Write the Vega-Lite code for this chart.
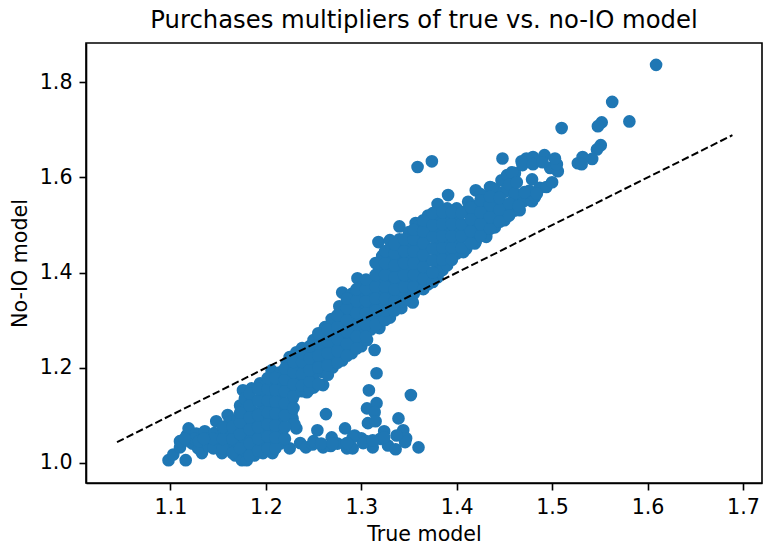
{"$schema":"https://vega.github.io/schema/vega-lite/v6.json","width":676,"height":440,"autosize":"none","padding":{"left":86,"top":43,"right":1,"bottom":64},"background":"white","config":{"view":{"stroke":"#000","strokeWidth":1.6},"font":"DejaVu Sans"},"title":{"text":"Purchases multipliers of true vs. no-IO model","fontSize":24.3,"fontWeight":"normal","font":"DejaVu Sans","color":"#000","offset":10,"anchor":"middle"},"layer":[{"data":{"values":[
{"t":1.098,"n":1.005},{"t":1.103,"n":1.017},{"t":1.11,"n":1.032},{"t":1.116,"n":1.005},{"t":1.117,"n":1.057},{"t":1.119,"n":1.072},{"t":1.123,"n":1.04},{"t":1.127,"n":1.061},{"t":1.136,"n":1.066},{"t":1.133,"n":1.02},{"t":1.129,"n":1.03},{"t":1.12,"n":1.045},{"t":1.14,"n":1.05},{"t":1.146,"n":1.062},{"t":1.148,"n":1.087},{"t":1.16,"n":1.1},{"t":1.154,"n":1.02},{"t":1.15,"n":1.04},{"t":1.156,"n":1.07},{"t":1.162,"n":1.085},{"t":1.16,"n":1.055},{"t":1.16,"n":1.03},{"t":1.168,"n":1.015},{"t":1.168,"n":1.04},{"t":1.168,"n":1.062},{"t":1.17,"n":1.09},{"t":1.175,"n":1.005},{"t":1.18,"n":1.005},{"t":1.178,"n":1.025},{"t":1.178,"n":1.05},{"t":1.176,"n":1.075},{"t":1.173,"n":1.12},{"t":1.176,"n":1.152},{"t":1.18,"n":1.1},{"t":1.178,"n":1.135},{"t":1.185,"n":1.156},{"t":1.188,"n":1.015},{"t":1.188,"n":1.035},{"t":1.188,"n":1.06},{"t":1.187,"n":1.082},{"t":1.188,"n":1.105},{"t":1.188,"n":1.13},{"t":1.194,"n":1.167},{"t":1.197,"n":1.02},{"t":1.197,"n":1.045},{"t":1.197,"n":1.07},{"t":1.197,"n":1.095},{"t":1.197,"n":1.12},{"t":1.197,"n":1.145},{"t":1.206,"n":1.194},{"t":1.207,"n":1.02},{"t":1.205,"n":1.04},{"t":1.206,"n":1.065},{"t":1.206,"n":1.09},{"t":1.206,"n":1.115},{"t":1.206,"n":1.14},{"t":1.206,"n":1.167},{"t":1.215,"n":1.089},{"t":1.217,"n":1.062},{"t":1.215,"n":1.04},{"t":1.214,"n":1.115},{"t":1.215,"n":1.14},{"t":1.215,"n":1.165},{"t":1.215,"n":1.19},{"t":1.222,"n":1.21},{"t":1.225,"n":1.222},{"t":1.225,"n":1.116},{"t":1.228,"n":1.135},{"t":1.224,"n":1.16},{"t":1.224,"n":1.185},{"t":1.225,"n":1.03},{"t":1.228,"n":1.093},{"t":1.232,"n":1.072},{"t":1.23,"n":1.08},{"t":1.227,"n":1.105},{"t":1.232,"n":1.232},{"t":1.238,"n":1.241},{"t":1.233,"n":1.15},{"t":1.233,"n":1.175},{"t":1.233,"n":1.2},{"t":1.243,"n":1.148},{"t":1.242,"n":1.17},{"t":1.242,"n":1.195},{"t":1.242,"n":1.22},{"t":1.25,"n":1.158},{"t":1.25,"n":1.18},{"t":1.25,"n":1.205},{"t":1.25,"n":1.23},{"t":1.25,"n":1.258},{"t":1.26,"n":1.163},{"t":1.26,"n":1.19},{"t":1.26,"n":1.215},{"t":1.26,"n":1.24},{"t":1.26,"n":1.265},{"t":1.262,"n":1.285},{"t":1.27,"n":1.2},{"t":1.27,"n":1.225},{"t":1.27,"n":1.25},{"t":1.27,"n":1.275},{"t":1.269,"n":1.302},{"t":1.277,"n":1.329},{"t":1.28,"n":1.358},{"t":1.28,"n":1.215},{"t":1.28,"n":1.24},{"t":1.28,"n":1.265},{"t":1.28,"n":1.29},{"t":1.28,"n":1.315},{"t":1.29,"n":1.23},{"t":1.29,"n":1.255},{"t":1.29,"n":1.28},{"t":1.29,"n":1.305},{"t":1.29,"n":1.33},{"t":1.29,"n":1.355},{"t":1.296,"n":1.388},{"t":1.3,"n":1.245},{"t":1.3,"n":1.27},{"t":1.3,"n":1.295},{"t":1.3,"n":1.32},{"t":1.3,"n":1.345},{"t":1.3,"n":1.37},{"t":1.306,"n":1.258},{"t":1.31,"n":1.28},{"t":1.31,"n":1.305},{"t":1.31,"n":1.33},{"t":1.31,"n":1.355},{"t":1.31,"n":1.38},{"t":1.319,"n":1.283},{"t":1.32,"n":1.31},{"t":1.32,"n":1.335},{"t":1.32,"n":1.36},{"t":1.32,"n":1.385},{"t":1.32,"n":1.41},{"t":1.322,"n":1.435},{"t":1.318,"n":1.464},{"t":1.33,"n":1.468},{"t":1.33,"n":1.305},{"t":1.33,"n":1.33},{"t":1.33,"n":1.355},{"t":1.33,"n":1.38},{"t":1.33,"n":1.405},{"t":1.33,"n":1.43},{"t":1.33,"n":1.45},{"t":1.34,"n":1.497},{"t":1.342,"n":1.325},{"t":1.34,"n":1.35},{"t":1.34,"n":1.375},{"t":1.34,"n":1.4},{"t":1.34,"n":1.425},{"t":1.34,"n":1.45},{"t":1.34,"n":1.47},{"t":1.354,"n":1.337},{"t":1.35,"n":1.36},{"t":1.35,"n":1.385},{"t":1.35,"n":1.41},{"t":1.35,"n":1.435},{"t":1.35,"n":1.46},{"t":1.35,"n":1.485},{"t":1.357,"n":1.504},{"t":1.36,"n":1.375},{"t":1.36,"n":1.4},{"t":1.36,"n":1.425},{"t":1.36,"n":1.45},{"t":1.36,"n":1.475},{"t":1.36,"n":1.497},{"t":1.37,"n":1.375},{"t":1.37,"n":1.4},{"t":1.37,"n":1.425},{"t":1.37,"n":1.45},{"t":1.37,"n":1.475},{"t":1.37,"n":1.5},{"t":1.37,"n":1.52},{"t":1.38,"n":1.544},{"t":1.38,"n":1.39},{"t":1.38,"n":1.415},{"t":1.38,"n":1.44},{"t":1.38,"n":1.465},{"t":1.38,"n":1.49},{"t":1.38,"n":1.515},{"t":1.385,"n":1.405},{"t":1.391,"n":1.563},{"t":1.39,"n":1.415},{"t":1.39,"n":1.44},{"t":1.39,"n":1.465},{"t":1.39,"n":1.49},{"t":1.39,"n":1.515},{"t":1.39,"n":1.535},{"t":1.4,"n":1.44},{"t":1.4,"n":1.465},{"t":1.4,"n":1.49},{"t":1.4,"n":1.515},{"t":1.41,"n":1.45},{"t":1.41,"n":1.475},{"t":1.41,"n":1.5},{"t":1.41,"n":1.53},{"t":1.42,"n":1.573},{"t":1.42,"n":1.465},{"t":1.42,"n":1.49},{"t":1.42,"n":1.515},{"t":1.42,"n":1.54},{"t":1.43,"n":1.48},{"t":1.43,"n":1.505},{"t":1.43,"n":1.53},{"t":1.43,"n":1.56},{"t":1.435,"n":1.58},{"t":1.44,"n":1.495},{"t":1.44,"n":1.52},{"t":1.44,"n":1.545},{"t":1.447,"n":1.594},{"t":1.453,"n":1.605},{"t":1.45,"n":1.51},{"t":1.45,"n":1.535},{"t":1.45,"n":1.57},{"t":1.461,"n":1.609},{"t":1.46,"n":1.53},{"t":1.46,"n":1.555},{"t":1.455,"n":1.585},{"t":1.466,"n":1.531},{"t":1.47,"n":1.55},{"t":1.479,"n":1.55},{"t":1.482,"n":1.559},{"t":1.479,"n":1.596},{"t":1.476,"n":1.572},{"t":1.487,"n":1.578},{"t":1.494,"n":1.58},{"t":1.5,"n":1.59},{"t":1.498,"n":1.62},{"t":1.506,"n":1.613},{"t":1.505,"n":1.628},{"t":1.503,"n":1.64},{"t":1.492,"n":1.647},{"t":1.48,"n":1.643},{"t":1.473,"n":1.64},{"t":1.468,"n":1.634},{"t":1.469,"n":1.626},{"t":1.48,"n":1.628},{"t":1.49,"n":1.632},{"t":1.448,"n":1.64},{"t":1.359,"n":1.622},{"t":1.374,"n":1.634},{"t":1.51,"n":1.704},{"t":1.563,"n":1.759},{"t":1.581,"n":1.718},{"t":1.552,"n":1.716},{"t":1.548,"n":1.708},{"t":1.551,"n":1.668},{"t":1.547,"n":1.659},{"t":1.542,"n":1.639},{"t":1.532,"n":1.643},{"t":1.527,"n":1.63},{"t":1.531,"n":1.628},{"t":1.609,"n":1.837},
{"t":1.407,"n":1.443},{"t":1.419,"n":1.461},{"t":1.431,"n":1.475},{"t":1.452,"n":1.517},{"t":1.4,"n":1.535},{"t":1.412,"n":1.549},{"t":1.425,"n":1.565},{"t":1.44,"n":1.575},{"t":1.437,"n":1.578},{"t":1.458,"n":1.611},{"t":1.461,"n":1.567},{"t":1.471,"n":1.569},{"t":1.463,"n":1.59},{"t":1.484,"n":1.566},
{"t":1.236,"n":1.041},{"t":1.242,"n":1.032},{"t":1.249,"n":1.038},{"t":1.26,"n":1.032},{"t":1.269,"n":1.053},{"t":1.254,"n":1.068},{"t":1.263,"n":1.102},{"t":1.283,"n":1.072},{"t":1.285,"n":1.03},{"t":1.291,"n":1.03},{"t":1.293,"n":1.057},{"t":1.3,"n":1.051},{"t":1.312,"n":1.032},{"t":1.306,"n":1.114},{"t":1.316,"n":1.125},{"t":1.314,"n":1.106},{"t":1.308,"n":1.152},{"t":1.316,"n":1.188},{"t":1.314,"n":1.237},{"t":1.307,"n":1.083},{"t":1.315,"n":1.087},{"t":1.324,"n":1.066},{"t":1.328,"n":1.036},{"t":1.336,"n":1.028},{"t":1.339,"n":1.093},{"t":1.352,"n":1.142},{"t":1.344,"n":1.068},{"t":1.347,"n":1.051},{"t":1.346,"n":1.043},{"t":1.337,"n":1.057},{"t":1.36,"n":1.032},{"t":1.275,"n":1.04},{"t":1.305,"n":1.045},{"t":1.32,"n":1.05},{"t":1.268,"n":1.035},{"t":1.25,"n":1.045},{"t":1.258,"n":1.04},{"t":1.27,"n":1.04},{"t":1.291,"n":1.053},{"t":1.285,"n":1.041},{"t":1.302,"n":1.041},{"t":1.324,"n":1.053},{"t":1.312,"n":1.047},
{"t":1.11,"n":1.045},{"t":1.125,"n":1.05},{"t":1.13,"n":1.045},{"t":1.115,"n":1.05},{"t":1.14,"n":1.035},{"t":1.145,"n":1.03},{"t":1.145,"n":1.05},{"t":1.135,"n":1.05},
{"t":1.155,"n":1.03},{"t":1.155,"n":1.05},{"t":1.155,"n":1.075},{"t":1.165,"n":1.02},{"t":1.165,"n":1.05},{"t":1.165,"n":1.075},{"t":1.173,"n":1.03},{"t":1.173,"n":1.06},{"t":1.173,"n":1.085},{"t":1.173,"n":1.105},{"t":1.183,"n":1.015},{"t":1.183,"n":1.04},{"t":1.183,"n":1.07},{"t":1.183,"n":1.095},{"t":1.183,"n":1.12},{"t":1.183,"n":1.145},{"t":1.192,"n":1.025},{"t":1.192,"n":1.05},{"t":1.192,"n":1.075},{"t":1.192,"n":1.1},{"t":1.192,"n":1.13},{"t":1.192,"n":1.155},{"t":1.202,"n":1.03},{"t":1.202,"n":1.055},{"t":1.202,"n":1.08},{"t":1.202,"n":1.105},{"t":1.202,"n":1.13},{"t":1.202,"n":1.155},{"t":1.202,"n":1.178},{"t":1.21,"n":1.03},{"t":1.21,"n":1.053},{"t":1.21,"n":1.078},{"t":1.21,"n":1.103},{"t":1.21,"n":1.128},{"t":1.21,"n":1.153},{"t":1.21,"n":1.178},{"t":1.22,"n":1.05},{"t":1.22,"n":1.075},{"t":1.22,"n":1.1},{"t":1.22,"n":1.125},{"t":1.22,"n":1.15},{"t":1.22,"n":1.175},{"t":1.22,"n":1.198},{"t":1.229,"n":1.115},{"t":1.229,"n":1.14},{"t":1.229,"n":1.165},{"t":1.229,"n":1.19},{"t":1.229,"n":1.212},{"t":1.238,"n":1.15},{"t":1.238,"n":1.162},{"t":1.238,"n":1.187},{"t":1.238,"n":1.212},{"t":1.238,"n":1.23},{"t":1.246,"n":1.155},{"t":1.246,"n":1.17},{"t":1.246,"n":1.195},{"t":1.246,"n":1.22},{"t":1.246,"n":1.245},{"t":1.255,"n":1.165},{"t":1.255,"n":1.2},{"t":1.255,"n":1.225},{"t":1.255,"n":1.25},{"t":1.255,"n":1.272},{"t":1.265,"n":1.185},{"t":1.265,"n":1.205},{"t":1.265,"n":1.23},{"t":1.265,"n":1.255},{"t":1.265,"n":1.28},{"t":1.275,"n":1.21},{"t":1.275,"n":1.235},{"t":1.275,"n":1.26},{"t":1.275,"n":1.285},{"t":1.275,"n":1.31},{"t":1.285,"n":1.225},{"t":1.285,"n":1.25},{"t":1.285,"n":1.275},{"t":1.285,"n":1.3},{"t":1.285,"n":1.325},{"t":1.285,"n":1.345},{"t":1.295,"n":1.24},{"t":1.295,"n":1.265},{"t":1.295,"n":1.29},{"t":1.295,"n":1.315},{"t":1.295,"n":1.34},{"t":1.295,"n":1.365},{"t":1.305,"n":1.265},{"t":1.305,"n":1.29},{"t":1.305,"n":1.315},{"t":1.305,"n":1.34},{"t":1.305,"n":1.365},{"t":1.305,"n":1.385},{"t":1.315,"n":1.29},{"t":1.315,"n":1.32},{"t":1.315,"n":1.345},{"t":1.315,"n":1.37},{"t":1.315,"n":1.395},{"t":1.315,"n":1.42},{"t":1.325,"n":1.3},{"t":1.325,"n":1.32},{"t":1.325,"n":1.345},{"t":1.325,"n":1.37},{"t":1.325,"n":1.395},{"t":1.325,"n":1.42},{"t":1.325,"n":1.445},{"t":1.335,"n":1.32},{"t":1.335,"n":1.34},{"t":1.335,"n":1.365},{"t":1.335,"n":1.39},{"t":1.335,"n":1.415},{"t":1.335,"n":1.44},{"t":1.335,"n":1.46},{"t":1.345,"n":1.34},{"t":1.345,"n":1.37},{"t":1.345,"n":1.395},{"t":1.345,"n":1.42},{"t":1.345,"n":1.445},{"t":1.345,"n":1.47},{"t":1.355,"n":1.355},{"t":1.355,"n":1.37},{"t":1.355,"n":1.395},{"t":1.355,"n":1.42},{"t":1.355,"n":1.445},{"t":1.355,"n":1.47},{"t":1.355,"n":1.49},{"t":1.365,"n":1.365},{"t":1.365,"n":1.387},{"t":1.365,"n":1.412},{"t":1.365,"n":1.437},{"t":1.365,"n":1.462},{"t":1.365,"n":1.487},{"t":1.365,"n":1.51},{"t":1.375,"n":1.38},{"t":1.375,"n":1.4},{"t":1.375,"n":1.425},{"t":1.375,"n":1.45},{"t":1.375,"n":1.475},{"t":1.375,"n":1.5},{"t":1.375,"n":1.525},{"t":1.385,"n":1.427},{"t":1.385,"n":1.452},{"t":1.385,"n":1.477},{"t":1.385,"n":1.502},{"t":1.385,"n":1.527},{"t":1.395,"n":1.427},{"t":1.395,"n":1.452},{"t":1.395,"n":1.477},{"t":1.395,"n":1.502},{"t":1.395,"n":1.527},{"t":1.405,"n":1.452},{"t":1.405,"n":1.477},{"t":1.405,"n":1.502},{"t":1.405,"n":1.525},{"t":1.415,"n":1.462},{"t":1.415,"n":1.487},{"t":1.415,"n":1.512},{"t":1.415,"n":1.537},{"t":1.425,"n":1.477},{"t":1.425,"n":1.502},{"t":1.425,"n":1.527},{"t":1.425,"n":1.552},{"t":1.435,"n":1.492},{"t":1.435,"n":1.517},{"t":1.435,"n":1.542},{"t":1.435,"n":1.56},{"t":1.445,"n":1.507},{"t":1.445,"n":1.532},{"t":1.445,"n":1.557},{"t":1.455,"n":1.52},{"t":1.455,"n":1.545},{"t":1.465,"n":1.54}
]},"mark":{"type":"circle","color":"#1f77b4","opacity":1,"size":160},"encoding":{"x":{"field":"t","type":"quantitative","scale":{"domain":[1.0115,1.72],"nice":false,"zero":false},"axis":{"values":[1.1,1.2,1.3,1.4,1.5,1.6,1.7],"format":".1f","grid":false,"title":"True model","titleFontSize":20.6,"titleFontWeight":"normal","titleColor":"#000","titlePadding":7,"labelFontSize":20.6,"labelColor":"#000","labelPadding":7,"tickSize":7,"tickWidth":1.6,"tickColor":"#000","domainColor":"#000","domainWidth":1.6}},"y":{"field":"n","type":"quantitative","scale":{"domain":[0.957,1.883],"nice":false,"zero":false},"axis":{"values":[1.0,1.2,1.4,1.6,1.8],"format":".1f","grid":false,"title":"No-IO model","titleFontSize":20.6,"titleFontWeight":"normal","titleColor":"#000","titlePadding":9,"labelFontSize":20.6,"labelColor":"#000","labelPadding":7,"tickSize":7,"tickWidth":1.6,"tickColor":"#000","domainColor":"#000","domainWidth":1.6}}}},{"data":{"values":[{"t":1.044,"n":1.043},{"t":1.689,"n":1.689}]},"mark":{"type":"line","color":"#000","strokeWidth":2,"strokeDash":[7.5,3.2]},"encoding":{"x":{"field":"t","type":"quantitative"},"y":{"field":"n","type":"quantitative"}}}]}
